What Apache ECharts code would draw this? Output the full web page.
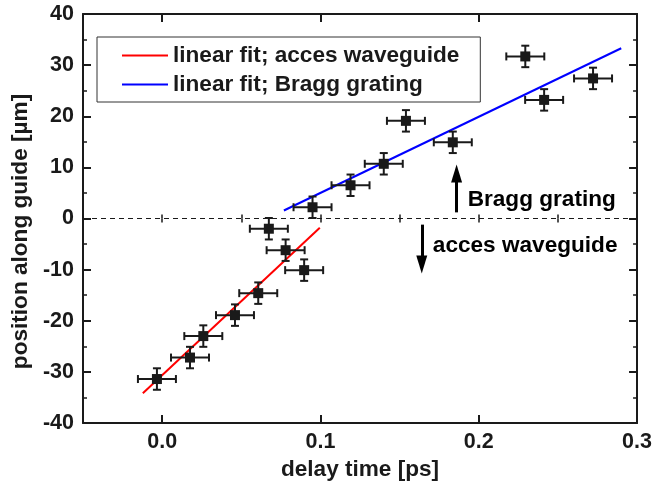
<!DOCTYPE html>
<html>
<head>
<meta charset="utf-8">
<script src="https://cdn.jsdelivr.net/npm/echarts@6/dist/echarts.min.js"></script>
<style>
  html, body { margin: 0; padding: 0; background: #fff; }
  #chart { width: 655px; height: 489px; }
</style>
</head>
<body>
<div id="chart"></div>
<script>
// Measured group delay vs. position along the guide
const delayTime = [-0.0033, 0.0176, 0.026, 0.046, 0.0607, 0.0674, 0.078, 0.0897, 0.095,
                   0.119, 0.140, 0.154, 0.1836, 0.2294, 0.2413, 0.2722];
const position  = [-31.4, -27.2, -23.0, -18.9, -14.6, -2.0, -6.2, -10.1, 2.2,
                   6.5, 10.7, 19.1, 14.9, 31.7, 23.2, 27.4];
const delayErr = 0.012;   // ps
const positionErr = 2.1;  // µm

// Linear fits (end points)
const fitAccessX = [-0.0122, 0.0996];
const fitAccessY = [-34.2, -1.8];
const fitBraggX = [0.0769, 0.290];
const fitBraggY = [1.56, 33.3];

// Axis ticks
const xMajorTicks = [0.0, 0.1, 0.2, 0.3];

// Region annotations: [x, y, text]
const notes = [[0.193, 3.7, 'Bragg grating'], [0.171, -5.3, 'acces waveguide']];
// Arrows: [x, yStart, yEnd]
const arrows = [[0.186, 1.2, 8.8], [0.164, -1.2, -9.0]];

const FONT = "'Liberation Sans', Arial, sans-serif";
const INK = '#1a1a1a';

const chart = echarts.init(document.getElementById('chart'), null, { renderer: 'canvas' });

const points = delayTime.map((x, i) => [x, position[i], delayErr, positionErr]);

function renderErrorBar(params, api) {
  const x = api.value(0), y = api.value(1), ex = api.value(2), ey = api.value(3);
  const l = api.coord([x - ex, y]), r = api.coord([x + ex, y]);
  const b = api.coord([x, y - ey]), t = api.coord([x, y + ey]);
  const cap = 4;
  const style = { stroke: INK, lineWidth: 2 };
  const seg = (x1, y1, x2, y2) => ({ type: 'line', shape: { x1, y1, x2, y2 }, style });
  return {
    type: 'group',
    children: [
      seg(l[0], l[1], r[0], r[1]),
      seg(b[0], b[1], t[0], t[1]),
      seg(l[0], l[1] - cap, l[0], l[1] + cap),
      seg(r[0], r[1] - cap, r[0], r[1] + cap),
      seg(b[0] - cap, b[1], b[0] + cap, b[1]),
      seg(t[0] - cap, t[1], t[0] + cap, t[1])
    ]
  };
}

const xBase = { type: 'value', min: -0.05, max: 0.3, gridIndex: 0, splitLine: { show: false } };
const yBase = { type: 'value', min: -40, max: 40, interval: 10, splitLine: { show: false } };
const axisLine = { show: true, onZero: false, lineStyle: { color: INK, width: 2 } };

const arrowLines = arrows.map(a => [
  { coord: [a[0], a[1]], symbol: 'none', lineStyle: { type: 'solid', color: '#000', width: 3 } },
  { coord: [a[0], a[2]], symbol: 'triangle', symbolSize: [11, 18] }
]);

chart.setOption({
  animation: false,
  backgroundColor: '#fff',
  textStyle: { fontFamily: FONT },
  grid: { left: 83, top: 14, right: 17, bottom: 66 },
  legend: {
    left: 97, top: 37,
    orient: 'vertical',
    backgroundColor: '#fff',
    borderColor: '#333', borderWidth: 1,
    padding: [7, 21, 6, 25],
    itemWidth: 46, itemHeight: 2, itemGap: 6,
    icon: 'rect',
    textStyle: { fontFamily: FONT, fontSize: 22.6, fontWeight: 'bold', color: INK, lineHeight: 22 },
    data: ['linear fit; acces waveguide', 'linear fit; Bragg grating']
  },
  xAxis: [
    Object.assign({}, xBase, {
      position: 'bottom',
      name: 'delay time [ps]', nameLocation: 'middle', nameGap: 34,
      nameTextStyle: { fontFamily: FONT, fontSize: 22.6, fontWeight: 'bold', color: INK },
      axisLine,
      axisTick: { show: true, inside: true, length: 8, customValues: xMajorTicks, lineStyle: { color: INK, width: 2 } },
      axisLabel: { show: true, customValues: xMajorTicks, margin: 8, formatter: v => v.toFixed(1),
                   fontFamily: FONT, fontSize: 21.5, fontWeight: 'bold', color: INK }
    }),
    Object.assign({}, xBase, {
      position: 'bottom', interval: 0.05,
      axisLine: { show: false },
      axisTick: { show: true, inside: true, length: 4, lineStyle: { color: INK, width: 1.5 } },
      axisLabel: { show: false }
    }),
    Object.assign({}, xBase, {
      position: 'top',
      axisLine,
      axisTick: { show: true, inside: true, length: 8, customValues: xMajorTicks, lineStyle: { color: INK, width: 2 } },
      axisLabel: { show: false }
    }),
    Object.assign({}, xBase, {
      position: 'top', interval: 0.05,
      axisLine: { show: false },
      axisTick: { show: true, inside: true, length: 4, lineStyle: { color: INK, width: 1.5 } },
      axisLabel: { show: false }
    })
  ],
  yAxis: [
    Object.assign({}, yBase, {
      position: 'left',
      name: 'position along guide [µm]', nameLocation: 'middle', nameGap: 50, nameRotate: 90,
      nameTextStyle: { fontFamily: FONT, fontSize: 22.6, fontWeight: 'bold', color: INK, padding: [0, 26, 0, 0] },
      axisLine,
      axisTick: { show: true, inside: true, length: 8, lineStyle: { color: INK, width: 2 } },
      minorTick: { show: true, splitNumber: 2, length: 4, lineStyle: { color: INK, width: 1.5 } },
      axisLabel: { show: true, margin: 9, fontFamily: FONT, fontSize: 21.5, fontWeight: 'bold', color: INK }
    }),
    Object.assign({}, yBase, {
      position: 'right',
      axisLine,
      axisTick: { show: true, inside: true, length: 8, lineStyle: { color: INK, width: 2 } },
      minorTick: { show: true, splitNumber: 2, length: 4, lineStyle: { color: INK, width: 1.5 } },
      axisLabel: { show: false }
    })
  ],
  series: [
    {
      name: 'annotations',
      type: 'scatter',
      symbolSize: 0,
      silent: true,
      itemStyle: { opacity: 1 },
      data: notes.map(n => ({ value: [n[0], n[1]], name: n[2] })),
      label: {
        show: true, position: 'right', distance: 0,
        formatter: p => p.name,
        fontFamily: FONT, fontSize: 22.6, fontWeight: 'bold', color: '#000'
      },
      markLine: {
        silent: true,
        animation: false,
        label: { show: false },
        symbol: 'none',
        data: [
          { yAxis: 0, lineStyle: { type: [5, 4], color: INK, width: 1.2 } },
          ...arrowLines
        ]
      }
    },
    {
      name: 'linear fit; acces waveguide',
      type: 'line',
      symbol: 'none',
      color: '#ff0000',
      lineStyle: { color: '#ff0000', width: 2 },
      data: fitAccessX.map((x, i) => [x, fitAccessY[i]]),
      z: 3
    },
    {
      name: 'linear fit; Bragg grating',
      type: 'line',
      symbol: 'none',
      color: '#0000ff',
      lineStyle: { color: '#0000ff', width: 2 },
      data: fitBraggX.map((x, i) => [x, fitBraggY[i]]),
      z: 3
    },
    {
      name: 'error bars',
      type: 'custom',
      renderItem: renderErrorBar,
      encode: { x: 0, y: 1 },
      data: points,
      z: 4
    },
    {
      name: 'measured',
      type: 'scatter',
      symbol: 'rect',
      symbolSize: 10,
      itemStyle: { color: INK, opacity: 1 },
      data: points.map(p => [p[0], p[1]]),
      z: 5
    }
  ]
});
</script>
</body>
</html>
